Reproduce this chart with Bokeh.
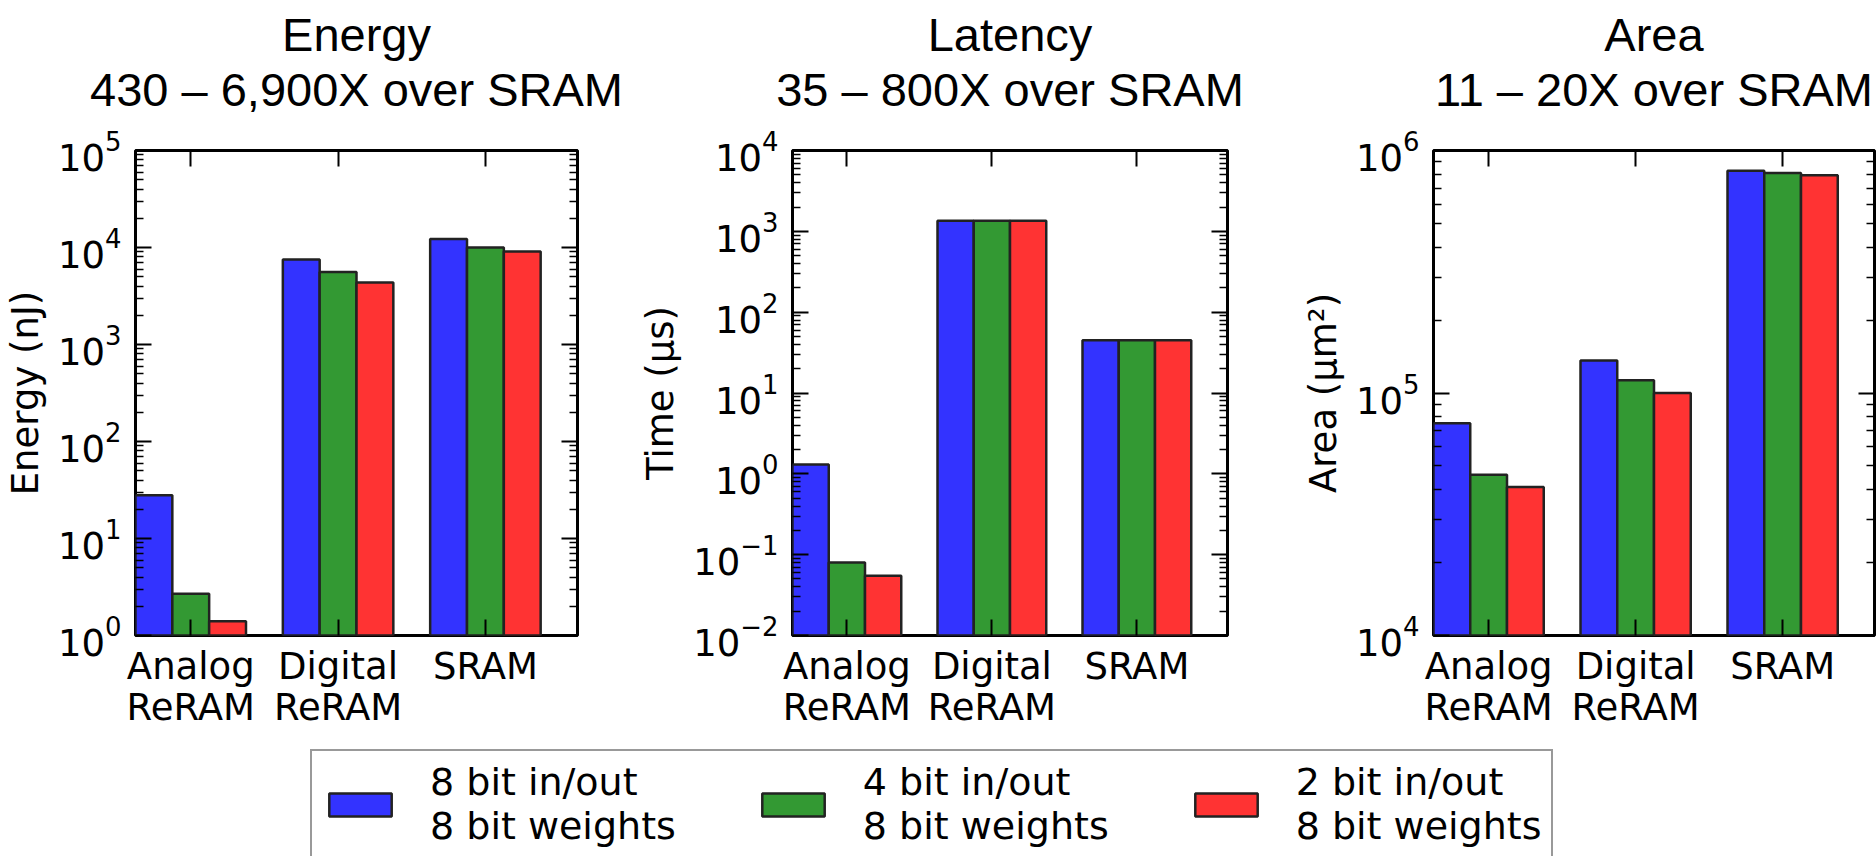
import numpy as np
from bokeh.plotting import figure
from bokeh.models import (Range1d, LogAxis, LinearAxis, FixedTicker, LogTickFormatter,
                          CustomJSTickFormatter, Title, Legend, LegendItem)
from bokeh.layouts import column, row
from bokeh.embed import file_html
from bokeh.resources import INLINE

# ---------------- data ----------------
categories = ["Analog\nReRAM", "Digital\nReRAM", "SRAM"]
series = ["8 bit in/out\n8 bit weights", "4 bit in/out\n8 bit weights", "2 bit in/out\n8 bit weights"]

energy_8 = [28, 7500, 12200]
energy_4 = [2.7, 5600, 10000]
energy_2 = [1.4, 4350, 9100]

latency_8 = [1.3, 1350, 45]
latency_4 = [0.08, 1350, 45]
latency_2 = [0.055, 1350, 45]

area_8 = [75000, 136000, 826000]
area_4 = [46000, 113000, 807000]
area_2 = [41000, 100000, 790000]

titles = ["Energy", "Latency", "Area"]
subtitles = ["430 \u2013 6,900X over SRAM", "35 \u2013 800X over SRAM", "11 \u2013 20X over SRAM"]
ylabels = ["Energy (nJ)", "Time (\u03bcs)", "Area (\u03bcm\u00b2)"]
exp_ranges = [(0, 5), (-2, 4), (4, 6)]

# ---------------- style ----------------
colors = ["#3333ff", "#339933", "#ff3333"]
EDGE = "#222222"
TICK_FONT = "DejaVu Sans"
TICK_SIZE = "37px"
ROW_H = 749
BAR_W = 0.25
TITLE_GAP = 35


def make_panel(title, subtitle, ylabel, exps, values, width, left, right):
    lo, hi = exps
    p = figure(width=width, height=ROW_H, y_axis_type="log",
               x_range=Range1d(-1.5 * BAR_W, len(categories) - 1.5 * BAR_W),
               y_range=Range1d(10.0 ** lo, 10.0 ** hi),
               output_backend="svg", toolbar_location=None,
               min_border_left=left, min_border_right=right,
               min_border_top=150, min_border_bottom=114)
    p.xgrid.visible = False
    p.ygrid.visible = False
    p.outline_line_color = "black"
    p.outline_line_width = 3
    p.background_fill_color = "white"
    p.border_fill_color = "white"

    idx = np.arange(len(categories))
    base = 10.0 ** lo
    for j, (vals, col) in enumerate(zip(values, colors)):
        p.vbar(x=idx + (j - 1) * BAR_W, top=vals, bottom=base, width=BAR_W,
               fill_color=col, line_color=EDGE, line_width=2.5)

    majors = [10.0 ** k for k in range(lo, hi + 1)]
    minors = [m * 10.0 ** k for k in range(lo, hi) for m in range(2, 10)]
    yt = FixedTicker(ticks=majors, minor_ticks=minors)
    xt = FixedTicker(ticks=list(idx), minor_ticks=[])

    ya = p.yaxis[0]
    ya.ticker = yt
    ya.formatter = LogTickFormatter()
    ya.axis_label = ylabel
    ya.axis_label_text_font = TICK_FONT
    ya.axis_label_text_font_size = TICK_SIZE
    ya.axis_label_text_font_style = "normal"
    ya.axis_label_text_color = "black"
    ya.axis_label_standoff = 8
    ya.major_label_text_font = TICK_FONT
    ya.major_label_text_font_size = TICK_SIZE
    ya.major_label_text_color = "black"
    ya.major_label_standoff = 14
    ya.axis_line_color = None
    ya.major_tick_in = 16
    ya.major_tick_out = 0
    ya.minor_tick_in = 8
    ya.minor_tick_out = 0
    ya.major_tick_line_width = 2
    ya.minor_tick_line_width = 1.5
    ya.major_tick_line_color = "black"
    ya.minor_tick_line_color = "black"

    xa = p.xaxis[0]
    xa.ticker = xt
    xa.major_label_overrides = {int(i): c for i, c in zip(idx, categories)}
    xa.major_label_text_font = TICK_FONT
    xa.major_label_text_font_size = TICK_SIZE
    xa.major_label_text_color = "black"
    xa.major_label_text_line_height = 0.975
    xa.major_label_standoff = 9
    xa.axis_line_color = None
    xa.major_tick_in = 16
    xa.major_tick_out = 0
    xa.major_tick_line_width = 2
    xa.major_tick_line_color = "black"

    blank = CustomJSTickFormatter(code="return ''")
    ra = LogAxis(ticker=yt, formatter=blank, axis_line_color=None,
                 major_tick_in=16, major_tick_out=0, minor_tick_in=8, minor_tick_out=0,
                 major_tick_line_width=2, minor_tick_line_width=1.5,
                 major_label_standoff=0)
    p.add_layout(ra, "right")
    ta = LinearAxis(ticker=xt, formatter=blank, axis_line_color=None,
                    major_tick_in=16, major_tick_out=0, minor_tick_in=0, minor_tick_out=0,
                    major_tick_line_width=2, major_label_standoff=0)
    p.add_layout(ta, "above")
    # invisible spacer between the frame and the two title lines
    spacer = LinearAxis(ticker=xt, formatter=blank, axis_line_color=None,
                        major_tick_in=0, major_tick_out=TITLE_GAP, major_tick_line_color=None,
                        minor_tick_in=0, minor_tick_out=0, major_label_standoff=0)
    p.add_layout(spacer, "above")

    p.add_layout(Title(text=subtitle, align="center",
                       text_font="Liberation Sans", text_font_size="47px",
                       text_font_style="normal", text_color="black", standoff=0), "above")
    p.add_layout(Title(text=title, align="center",
                       text_font="Liberation Sans", text_font_size="47px",
                       text_font_style="normal", text_color="black", standoff=0), "above")
    return p


panel_values = [[energy_8, energy_4, energy_2],
                [latency_8, latency_4, latency_2],
                [area_8, area_4, area_2]]
dims = [(636, 133, 59), (662, 134, 71), (578, 123, 2)]

panels = [make_panel(t, s, yl, e, v, *d)
          for t, s, yl, e, v, d in zip(titles, subtitles, ylabels, exp_ranges, panel_values, dims)]

# ---------------- legend ----------------
lf = figure(width=1876, height=107, x_range=Range1d(0, 1), y_range=Range1d(0, 1),
            output_backend="svg", toolbar_location=None,
            min_border_left=310, min_border_right=0, min_border_top=0, min_border_bottom=0,
            x_axis_location=None, y_axis_location=None)
lf.outline_line_color = None
lf.xgrid.visible = False
lf.ygrid.visible = False
leg_rs = []
for vals, c in zip(panel_values[0], colors):
    r = lf.vbar(x=np.arange(len(categories)), top=vals, width=BAR_W,
                fill_color=c, line_color=EDGE, line_width=2.5)
    r.visible = False
    leg_rs.append(r)
legend = Legend(items=[LegendItem(label=s, renderers=[r]) for s, r in zip(series, leg_rs)],
                orientation="horizontal", location="top_left", margin=0,
                glyph_width=78, glyph_height=29, label_standoff=31, spacing=78,
                padding=9, border_line_color="#333333", border_line_width=2,
                label_text_font=TICK_FONT, label_text_font_size="38px",
                label_text_line_height=0.95,
                label_text_color="black", background_fill_color="white",
                background_fill_alpha=1.0, inactive_fill_alpha=0.0)
lf.add_layout(legend, "center")

layout = column(row(*panels), lf)

with open("out.html", "w") as f:
    f.write(file_html(layout, INLINE))
